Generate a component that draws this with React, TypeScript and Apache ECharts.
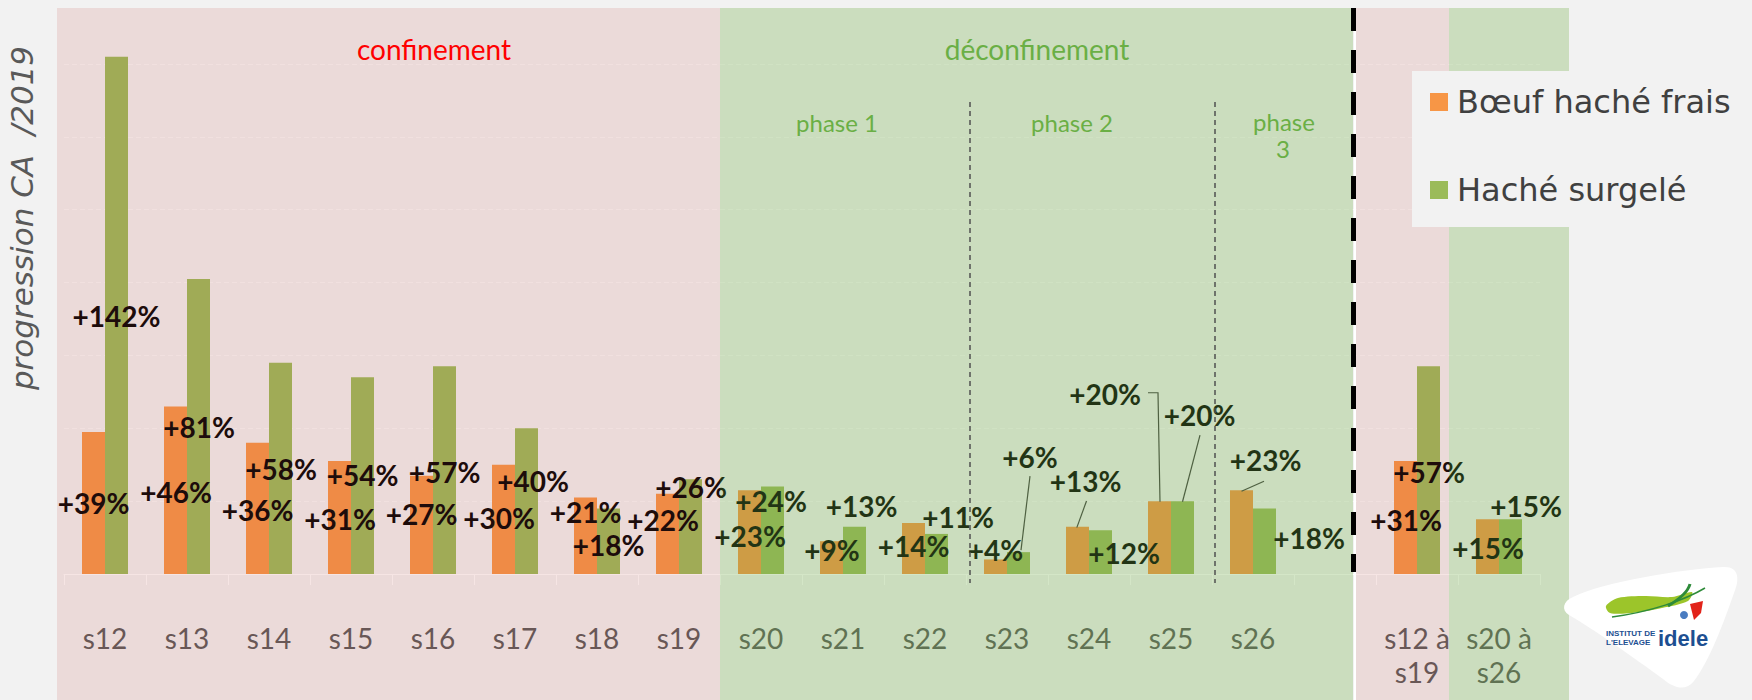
import React, { useEffect, useRef } from 'react';
import * as echarts from 'echarts';

// ---------- data ----------
const categories = ['s12', 's13', 's14', 's15', 's16', 's17', 's18', 's19', 's20', 's21', 's22', 's23', 's24', 's25', 's26', '', 's12 à\ns19', 's20 à\ns26'];
const boeufFrais = [39, 46, 36, 31, 27, 30, 21, 22, 23, 9, 14, 4, 13, 20, 23, null, 31, 15];
const hacheSurgele = [142, 81, 58, 54, 57, 40, 18, 26, 24, 13, 11, 6, 12, 20, 18, null, 57, 15];
const seriesNames = ['Bœuf haché frais', 'Haché surgelé'];
const periodLabels = ['confinement', 'déconfinement'];
const phaseLabels = ['phase 1', 'phase 2', 'phase', '3'];
const yTitle = 'progression CA  /2019';

// ---------- label layout (offset of label centre from bar top centre, px) ----------
const offsetsFrais: number[][] = [
  [0, 71], [0.5, 86], [0, 67.5], [0.5, 58], [0, 38.5], [-4.5, 53], [0, 14.5], [-4.5, 26], [0.5, 46],
  [0.5, 8.3], [0, 23], [0, -9.4], [8, -45.6], [-54.5, -107], [24, -30], [0, 0], [0.5, 59], [0.5, 29],
];
const offsetsSurgele: number[][] = [
  [0, 259], [0.5, 148], [0.5, 106], [0, 98], [0, 105.6], [6.5, 52.7], [0, 36.6], [0.5, 7.7], [-1.5, 14.4],
  [7, -20.6], [21.5, -16.5], [11.5, -95.4], [23.5, 22.7], [17, -86], [44.5, 29.6], [0, 0], [0.5, 105.6], [15.5, -13.4],
];
// leader lines: series index, category index, points relative to bar top centre
const leaders = [
  { s: 1, i: 11, pts: [[11.5, -76], [2.5, -2]] },
  { s: 0, i: 12, pts: [[9, -25.6], [-0.7, 1]] },
  { s: 0, i: 13, pts: [[-11.5, -108.4], [-1.5, -108.4], [0.5, 0.6]] },
  { s: 1, i: 13, pts: [[17.5, -66], [0, 0.6]] },
  { s: 0, i: 14, pts: [[22.5, -9], [0, 1]] },
];

const BAR_W = 23;
const PINK = 'rgba(192,80,77,0.15)';
const GREEN = 'rgba(112,173,71,0.30)';

const logoPath =
  'M 10 30 C 40 15 120 2 160 0 C 176 -1 177 12 171 26 C 161 55 146 95 131 114 C 123 124 112 122 100 112 C 70 90 30 62 6 48 C -2 43 0 34 10 30 Z';
echarts.graphic.registerShape('idelelogo', echarts.graphic.extendPath(logoPath, {}));

const phaseStyle = { fill: '#6aaf45', fontFamily: 'Lato', fontSize: 24, align: 'center', verticalAlign: 'middle' };

function staticGraphics(): any[] {
  return [
    // period overlays (drawn above bars, like the reference's translucent bands)
    { type: 'rect', z: 50, silent: true, shape: { x: 57, y: 8, width: 663, height: 692 }, style: { fill: PINK } },
    { type: 'rect', z: 50, silent: true, shape: { x: 720, y: 8, width: 633, height: 692 }, style: { fill: GREEN } },
    { type: 'rect', z: 50, silent: true, shape: { x: 1355, y: 8, width: 94, height: 692 }, style: { fill: PINK } },
    { type: 'rect', z: 50, silent: true, shape: { x: 1449, y: 8, width: 120, height: 692 }, style: { fill: GREEN } },
    // separators
    { type: 'line', z: 60, silent: true, shape: { x1: 1355, y1: 8, x2: 1355, y2: 700 }, style: { stroke: '#ffffff', lineWidth: 2 } },
    { type: 'line', z: 61, silent: true, shape: { x1: 1353.5, y1: 8, x2: 1353.5, y2: 572 }, style: { stroke: '#000000', lineWidth: 5, lineDash: [23, 19] } },
    { type: 'line', z: 60, silent: true, shape: { x1: 970, y1: 102, x2: 970, y2: 583 }, style: { stroke: '#505050', lineWidth: 1.5, lineDash: [5, 4] } },
    { type: 'line', z: 60, silent: true, shape: { x1: 1215, y1: 102, x2: 1215, y2: 583 }, style: { stroke: '#505050', lineWidth: 1.5, lineDash: [5, 4] } },
    // period texts
    { type: 'text', z: 60, x: 434, y: 49, style: { text: periodLabels[0], fill: '#ff0000', fontFamily: 'Lato', fontSize: 28, align: 'center', verticalAlign: 'middle' } },
    { type: 'text', z: 60, x: 1037, y: 49, style: { text: periodLabels[1], fill: '#6aaf45', fontFamily: 'Lato', fontSize: 28, align: 'center', verticalAlign: 'middle' } },
    { type: 'text', z: 60, x: 837, y: 122, style: { text: phaseLabels[0], ...phaseStyle } },
    { type: 'text', z: 60, x: 1072, y: 122, style: { text: phaseLabels[1], ...phaseStyle } },
    { type: 'text', z: 60, x: 1284, y: 121, style: { text: phaseLabels[2], ...phaseStyle } },
    { type: 'text', z: 60, x: 1283, y: 148, style: { text: phaseLabels[3], ...phaseStyle } },
    // y title
    { type: 'text', z: 60, x: 22, y: 218, rotation: Math.PI / 2, style: { text: yTitle, fill: '#595959', fontFamily: 'DejaVu Sans', fontStyle: 'italic', fontSize: 31, align: 'center', verticalAlign: 'middle' } },
    // legend box
    { type: 'rect', z: 70, silent: true, shape: { x: 1412, y: 71, width: 340, height: 156 }, style: { fill: '#f2f2f2' } },
    // logo
    { type: 'idelelogo', z: 70, x: 1563, y: 567, style: { fill: '#ffffff' } },
    { type: 'polygon', z: 71, shape: { points: [[1606, 606], [1618, 598], [1645, 596], [1672, 597], [1692, 592], [1688, 601], [1662, 608], [1632, 613], [1610, 613]], smooth: 0.3 }, style: { fill: '#9cc52a' } },
    { type: 'bezierCurve', z: 72, shape: { x1: 1612, y1: 617, x2: 1705, y2: 588, cpx1: 1650, cpy1: 612, cpx2: 1685, cpy2: 600 }, style: { stroke: '#2e8b3a', lineWidth: 1.5, fill: 'none' } },
    { type: 'bezierCurve', z: 72, shape: { x1: 1668, y1: 606, x2: 1690, y2: 584, cpx1: 1678, cpy1: 600, cpx2: 1688, cpy2: 592 }, style: { stroke: '#2e8b3a', lineWidth: 3, fill: 'none' } },
    { type: 'polygon', z: 72, shape: { points: [[1690, 604], [1703, 601], [1701, 613], [1694, 620], [1692, 612]] }, style: { fill: '#e2231a' } },
    { type: 'circle', z: 72, shape: { cx: 1684, cy: 615, r: 4 }, style: { fill: '#4a7cc0' } },
    { type: 'text', z: 72, x: 1606, y: 633, style: { text: 'INSTITUT DE', fill: '#1d4f91', fontFamily: 'Liberation Sans', fontWeight: 'bold', fontSize: 8, align: 'left', verticalAlign: 'middle' } },
    { type: 'text', z: 72, x: 1606, y: 642, style: { text: "L'ELEVAGE", fill: '#1d4f91', fontFamily: 'Liberation Sans', fontWeight: 'bold', fontSize: 8, align: 'left', verticalAlign: 'middle' } },
    { type: 'text', z: 72, x: 1658, y: 638, style: { text: 'idele', fill: '#1d4f91', fontFamily: 'Liberation Sans', fontWeight: 'bold', fontSize: 22, align: 'left', verticalAlign: 'middle' } },
  ];
}

function mkSeries(name: string, values: (number | null)[], color: string, offsets: number[][]) {
  return {
    name,
    type: 'bar',
    barWidth: BAR_W,
    barGap: '0%',
    clip: false,
    itemStyle: { color },
    label: {
      show: true,
      position: ['50%', 0],
      align: 'center',
      verticalAlign: 'middle',
      formatter: '+{c}%',
      fontFamily: 'Lato',
      fontWeight: 'bold',
      fontSize: 28,
      color: '#000000',
    },
    data: values.map((v, i) => (v == null ? null : { value: v, label: { offset: offsets[i] } })),
  };
}

export default function App() {
  const ref = useRef<HTMLDivElement>(null);
  useEffect(() => {
    const el = ref.current!;
    const chart = echarts.init(el, null, { renderer: 'svg' });
    const option: any = {
      animation: false,
      backgroundColor: '#f2f2f2',
      textStyle: { fontFamily: 'Lato' },
      grid: { left: 64, right: 212, top: 64, bottom: 126 },
      legend: {
        z: 80,
        orient: 'vertical',
        left: 1430,
        top: 82,
        padding: 0,
        itemWidth: 18,
        itemHeight: 18,
        itemGap: 48,
        icon: 'rect',
        selectedMode: false,
        data: seriesNames,
        textStyle: { fontFamily: 'DejaVu Sans', fontSize: 32, color: '#404040', lineHeight: 40, padding: [0, 0, 0, 4] },
      },
      xAxis: {
        type: 'category',
        data: categories,
        axisLine: { lineStyle: { color: '#ffffff', width: 1 } },
        axisTick: { show: true, length: 11, lineStyle: { color: '#ffffff' } },
        axisLabel: { interval: 0, color: '#595959', fontFamily: 'Lato', fontSize: 28, lineHeight: 34, margin: 47 },
      },
      yAxis: {
        type: 'value',
        min: 0,
        max: 140,
        interval: 20,
        axisLabel: { show: false },
        axisLine: { show: false },
        axisTick: { show: false },
        splitLine: { lineStyle: { color: 'rgba(255,255,255,0.6)', type: [5, 3], width: 1 } },
      },
      series: [
        mkSeries(seriesNames[0], boeufFrais, '#f79646', offsetsFrais),
        mkSeries(seriesNames[1], hacheSurgele, '#9bbb59', offsetsSurgele),
      ],
      graphic: staticGraphics(),
    };
    chart.setOption(option);

    const values = [boeufFrais, hacheSurgele];
    const leaderGraphics = leaders.map((l) => {
      const v = values[l.s][l.i] as number;
      const p = chart.convertToPixel({ gridIndex: 0 }, [l.i, v]) as number[];
      const bx = p[0] + (l.s === 0 ? -BAR_W / 2 : BAR_W / 2);
      const by = p[1];
      return {
        type: 'polyline',
        z: 10,
        silent: true,
        shape: { points: l.pts.map((q) => [bx + q[0], by + q[1]]) },
        style: { stroke: '#404040', lineWidth: 1.2, fill: 'none' },
      };
    });
    chart.setOption({ graphic: [...staticGraphics(), ...leaderGraphics] }, { replaceMerge: ['graphic'] });

    return () => chart.dispose();
  }, []);
  return (
    <div
      ref={ref}
      style={{ position: 'fixed', left: 0, top: 0, width: 1752, height: 700, background: '#f2f2f2' }}
    />
  );
}
